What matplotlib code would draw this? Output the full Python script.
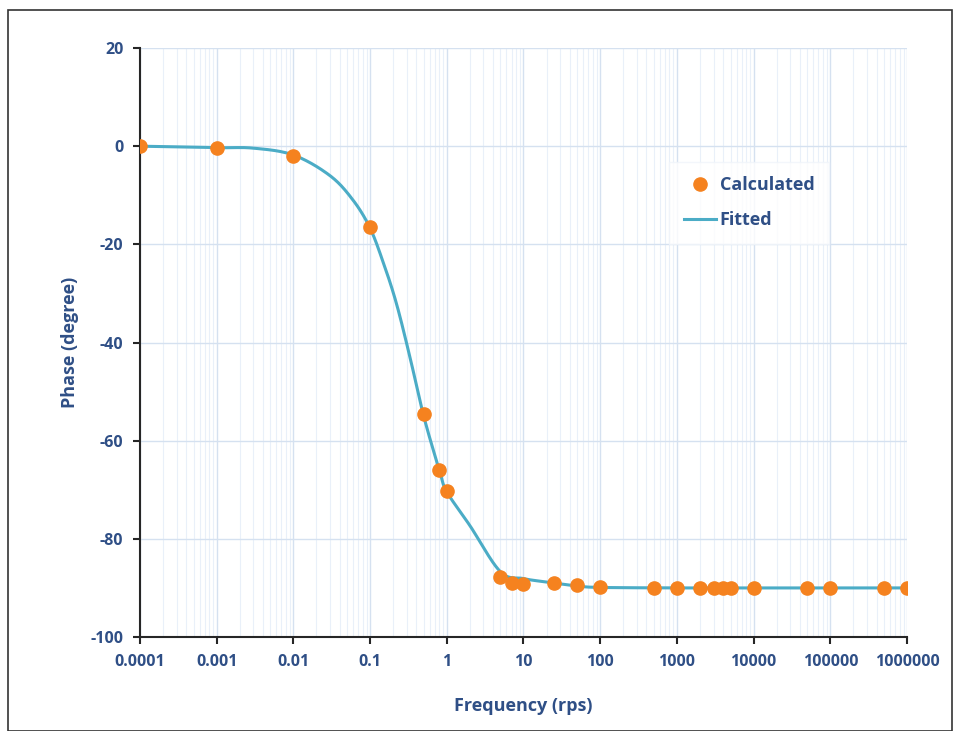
import numpy as np
import matplotlib.pyplot as plt
from matplotlib.patches import Rectangle
from matplotlib.ticker import FixedLocator, LogLocator, NullFormatter

# frequencies (rps) and calculated phase (degree)
freq = [0.0001, 0.001, 0.01, 0.1, 0.5, 0.8, 1, 5, 7, 10, 25, 50, 100,
        500, 1000, 2000, 3000, 4000, 5000, 10000, 50000, 100000,
        500000, 1000000]
phase_calc = [0, -0.3, -2.0, -16.5, -54.6, -66.0, -70.3, -87.8, -89.0,
              -89.2, -89.0, -89.4, -89.8, -90, -90, -90, -90, -90, -90,
              -90, -90, -90, -90, -90]

# fitted curve
freq_fit = [0.0001, 0.001, 0.003, 0.01, 0.03, 0.06, 0.1, 0.15, 0.22,
            0.33, 0.5, 0.8, 1, 2, 5, 10, 20, 50, 100, 1000, 10000, 100000,
            1000000]
phase_fit = [0, -0.3, -0.4, -1.8, -6.0, -11.0, -16.7, -23.9, -32.0,
             -42.9, -55.0, -66.0, -70.4, -77.3, -86.7, -88.1, -88.8, -89.6,
             -89.9, -90, -90, -90, -90]

x_ticks = [0.0001, 0.001, 0.01, 0.1, 1, 10, 100, 1000, 10000, 100000, 1000000]
x_labels = ["0.0001", "0.001", "0.01", "0.1", "1", "10", "100", "1000",
            "10000", "100000", "1000000"]
y_ticks = [-100, -80, -60, -40, -20, 0, 20]

text_col = "#2f4f86"
orange = "#f5821f"
teal = "#4bacc6"


def smooth(xs, ys, n=30):
    # Catmull-Rom curve through the points, in log-x space
    lx = np.log10(xs)
    y = np.asarray(ys, dtype=float)
    px = np.concatenate([[2 * lx[0] - lx[1]], lx, [2 * lx[-1] - lx[-2]]])
    py = np.concatenate([[2 * y[0] - y[1]], y, [2 * y[-1] - y[-2]]])
    out_x, out_y = [], []
    t = np.linspace(0, 1, n, endpoint=False)
    h00 = 2 * t**3 - 3 * t**2 + 1
    h10 = t**3 - 2 * t**2 + t
    h01 = -2 * t**3 + 3 * t**2
    h11 = t**3 - t**2
    for i in range(1, len(px) - 2):
        for p, out in ((px, out_x), (py, out_y)):
            p0, p1, p2, p3 = p[i - 1], p[i], p[i + 1], p[i + 2]
            m1 = (p2 - p0) / 2
            m2 = (p3 - p1) / 2
            out.extend(h00 * p1 + h10 * m1 + h01 * p2 + h11 * m2)
    out_x.append(lx[-1])
    out_y.append(y[-1])
    return 10 ** np.array(out_x), np.array(out_y)


plt.rcParams["font.family"] = ["Open Sans", "DejaVu Sans"]
plt.rcParams["axes.unicode_minus"] = False

fig = plt.figure(figsize=(9.58, 7.31), dpi=100)
ax = fig.add_axes([0.1461, 0.1286, 0.8007, 0.8057])

fx, fy = smooth(freq_fit, phase_fit)
ax.plot(fx, fy, color=teal, lw=2.2, label="Fitted", zorder=3)
ax.plot(freq, phase_calc, "o", color=orange, ms=9.5, mec=orange,
        label="Calculated", zorder=4)

ax.set_xscale("log")
ax.set_xlim(0.0001, 1000000)
ax.set_ylim(-100, 20)
ax.xaxis.set_major_locator(FixedLocator(x_ticks))
ax.set_xticks(x_ticks, x_labels)
ax.xaxis.set_minor_locator(LogLocator(base=10, subs=np.arange(2, 10), numticks=100))
ax.xaxis.set_minor_formatter(NullFormatter())
ax.set_yticks(y_ticks)

ax.grid(True, which="major", color="#d5e1f0", lw=1)
ax.grid(True, which="minor", axis="x", color="#e9f0f9", lw=0.8)
ax.set_axisbelow(True)

for s in ("top", "right"):
    ax.spines[s].set_visible(False)
for s in ("left", "bottom"):
    ax.spines[s].set_color("#262626")
    ax.spines[s].set_linewidth(1.5)

ax.tick_params(which="major", direction="out", length=5, width=1.5,
               color="#262626", labelcolor=text_col, labelsize=11.5, pad=7)
ax.tick_params(which="minor", length=0)
for lab in ax.get_xticklabels() + ax.get_yticklabels():
    lab.set_fontweight("bold")

ax.set_xlabel("Frequency (rps)", color=text_col, fontsize=13,
              fontweight="bold", labelpad=20)
ax.set_ylabel("Phase (degree)", color=text_col, fontsize=13,
              fontweight="bold", labelpad=8)

handles, labels = ax.get_legend_handles_labels()
leg = ax.legend(handles[::-1], labels[::-1], loc="upper left",
                bbox_to_anchor=(0.678, 0.822), frameon=True, fancybox=False,
                facecolor="white", edgecolor="#f0f4fa", fontsize=13,
                handlelength=1.8, handletextpad=0.2, borderpad=0.8,
                labelspacing=0.95)
for t in leg.get_texts():
    t.set_color(text_col)
    t.set_fontweight("bold")

fig.patches.append(Rectangle((8 / 958, 0), 944 / 958, 721 / 731,
                             transform=fig.transFigure, fill=False,
                             edgecolor="#333333", lw=1.2))

fig.savefig("out.png", dpi=100)
